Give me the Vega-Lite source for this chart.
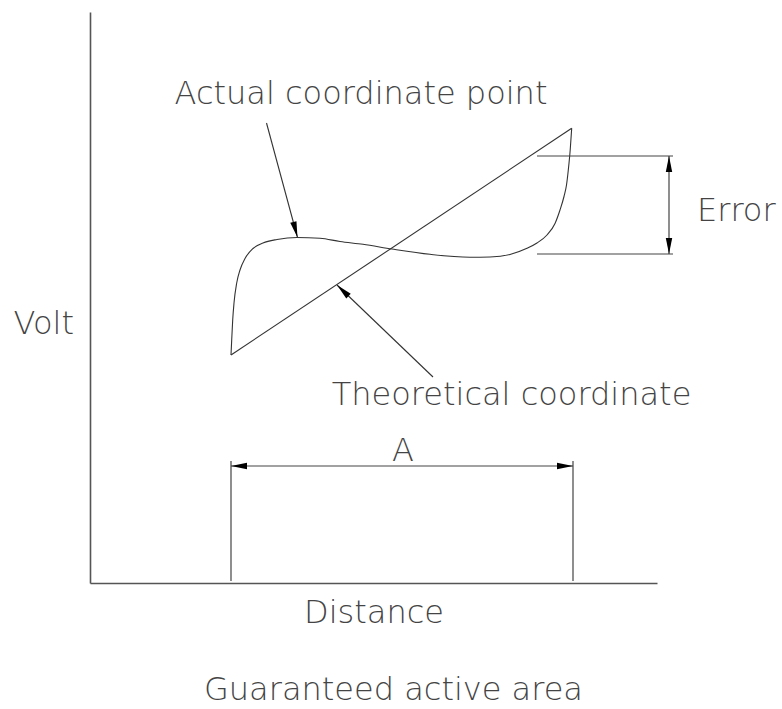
{
  "$schema": "https://vega.github.io/schema/vega-lite/v6.json",
  "width": 567,
  "height": 571,
  "autosize": "none",
  "padding": {"left": 90, "top": 12, "right": 125, "bottom": 126},
  "background": "white",
  "config": {"view": {"stroke": null}, "font": "DejaVu Sans"},
  "title": {"text": "Guaranteed active area", "orient": "bottom", "offset": 47, "dx": 20, "fontSize": 32, "font": "DejaVu Sans", "fontWeight": 200, "color": "#444"},
  "datasets": {
    "actual": [
      {"d": 141, "v": 228}, {"d": 141.7, "v": 243}, {"d": 142.7, "v": 263}, {"d": 144, "v": 280},
      {"d": 146.7, "v": 300}, {"d": 150, "v": 313}, {"d": 155, "v": 324.5}, {"d": 163, "v": 334.5},
      {"d": 173, "v": 340}, {"d": 187, "v": 343.5}, {"d": 207, "v": 345.5}, {"d": 230, "v": 344.7},
      {"d": 250, "v": 341.5}, {"d": 273, "v": 338.7}, {"d": 302, "v": 334}, {"d": 340, "v": 328.7},
      {"d": 380, "v": 325.8}, {"d": 400, "v": 326}, {"d": 420, "v": 328.5}, {"d": 437, "v": 334.7},
      {"d": 447, "v": 340}, {"d": 457, "v": 348}, {"d": 465, "v": 359.5}, {"d": 470, "v": 373},
      {"d": 474, "v": 386.5}, {"d": 476.5, "v": 398}, {"d": 478.3, "v": 413}, {"d": 480.2, "v": 433},
      {"d": 481.7, "v": 454.7}
    ],
    "theory": [{"d": 141, "v": 228}, {"d": 481.7, "v": 454.7}],
    "leaders": [
      {"d": 176.5, "v": 460, "d2": 207.5, "v2": 345.5},
      {"d": 343, "v": 206, "d2": 247, "v2": 298}
    ],
    "dims": [
      {"d": 141, "v": 2, "d2": 141, "v2": 122},
      {"d": 483, "v": 2, "d2": 483, "v2": 122},
      {"d": 141, "v": 117, "d2": 483, "v2": 117},
      {"d": 447, "v": 427, "d2": 583, "v2": 427},
      {"d": 447, "v": 329, "d2": 583, "v2": 329},
      {"d": 579, "v": 329, "d2": 579, "v2": 427}
    ],
    "heads": [
      {"d": 141, "v": 117, "dir": "left"},
      {"d": 483, "v": 117, "dir": "right"},
      {"d": 579, "v": 427, "dir": "up"},
      {"d": 579, "v": 329, "dir": "down"},
      {"d": 207.5, "v": 345.5, "dir": "p1"},
      {"d": 247, "v": 298, "dir": "p2"}
    ],
    "labels": [
      {"d": 271, "v": 489, "label": "Actual coordinate point"},
      {"d": 421.5, "v": 188, "label": "Theoretical coordinate"},
      {"d": 313, "v": 132, "label": "A"}
    ],
    "side": [
      {"d": 607, "v": 372.5, "label": "Error"}
    ]
  },
  "encoding": {
    "x": {"field": "d", "type": "quantitative", "scale": {"domain": [0, 567], "nice": false, "zero": false},
      "axis": {"title": "Distance", "labels": false, "ticks": false, "grid": false, "domainColor": "#555", "domainWidth": 1.6,
        "titleFont": "DejaVu Sans", "titleFontWeight": 200, "titleFontSize": 32, "titleColor": "#444", "titlePadding": 14}},
    "y": {"field": "v", "type": "quantitative", "scale": {"domain": [0, 571], "nice": false, "zero": false},
      "axis": {"title": "Volt", "labels": false, "ticks": false, "grid": false, "domainColor": "#555", "domainWidth": 1.6,
        "titleFont": "DejaVu Sans", "titleFontWeight": 200, "titleFontSize": 32, "titleColor": "#444",
        "titleAngle": 0, "titleAlign": "left", "titleBaseline": "middle", "titleX": -77, "titleY": 311.5}}
  },
  "layer": [
    {"data": {"name": "theory"}, "mark": {"type": "line", "color": "#333", "strokeWidth": 1.1}},
    {"data": {"name": "actual"}, "mark": {"type": "line", "color": "#333", "strokeWidth": 1.1, "interpolate": "monotone"}},
    {"data": {"name": "leaders"}, "mark": {"type": "rule", "color": "#333", "strokeWidth": 1.1},
      "encoding": {"x2": {"field": "d2"}, "y2": {"field": "v2"}}},
    {"data": {"name": "dims"}, "mark": {"type": "rule", "color": "#444", "strokeWidth": 1.2},
      "encoding": {"x2": {"field": "d2"}, "y2": {"field": "v2"}}},
    {"data": {"name": "heads"}, "transform": [{"filter": "datum.dir === 'left'"}],
      "mark": {"type": "point", "shape": "M0,0L-0.2,1L0.2,1Z", "size": 1024, "filled": true, "color": "#000", "opacity": 1, "angle": 270}},
    {"data": {"name": "heads"}, "transform": [{"filter": "datum.dir === 'right'"}],
      "mark": {"type": "point", "shape": "M0,0L-0.2,1L0.2,1Z", "size": 1024, "filled": true, "color": "#000", "opacity": 1, "angle": 90}},
    {"data": {"name": "heads"}, "transform": [{"filter": "datum.dir === 'up'"}],
      "mark": {"type": "point", "shape": "M0,0L-0.2,1L0.2,1Z", "size": 1024, "filled": true, "color": "#000", "opacity": 1, "angle": 0}},
    {"data": {"name": "heads"}, "transform": [{"filter": "datum.dir === 'down'"}],
      "mark": {"type": "point", "shape": "M0,0L-0.2,1L0.2,1Z", "size": 1024, "filled": true, "color": "#000", "opacity": 1, "angle": 180}},
    {"data": {"name": "heads"}, "transform": [{"filter": "datum.dir === 'p1'"}],
      "mark": {"type": "point", "shape": "M0,0L-0.2,1L0.2,1Z", "size": 1024, "filled": true, "color": "#000", "opacity": 1, "angle": 165}},
    {"data": {"name": "heads"}, "transform": [{"filter": "datum.dir === 'p2'"}],
      "mark": {"type": "point", "shape": "M0,0L-0.2,1L0.2,1Z", "size": 1024, "filled": true, "color": "#000", "opacity": 1, "angle": 314}},
    {"data": {"name": "labels"}, "mark": {"type": "text", "font": "DejaVu Sans", "fontWeight": 200, "fontSize": 32, "color": "#444", "align": "center", "baseline": "middle"},
      "encoding": {"text": {"field": "label"}}},
    {"data": {"name": "side"}, "mark": {"type": "text", "font": "DejaVu Sans", "fontWeight": 200, "fontSize": 32, "color": "#444", "align": "left", "baseline": "middle"},
      "encoding": {"text": {"field": "label"}}}
  ]
}
